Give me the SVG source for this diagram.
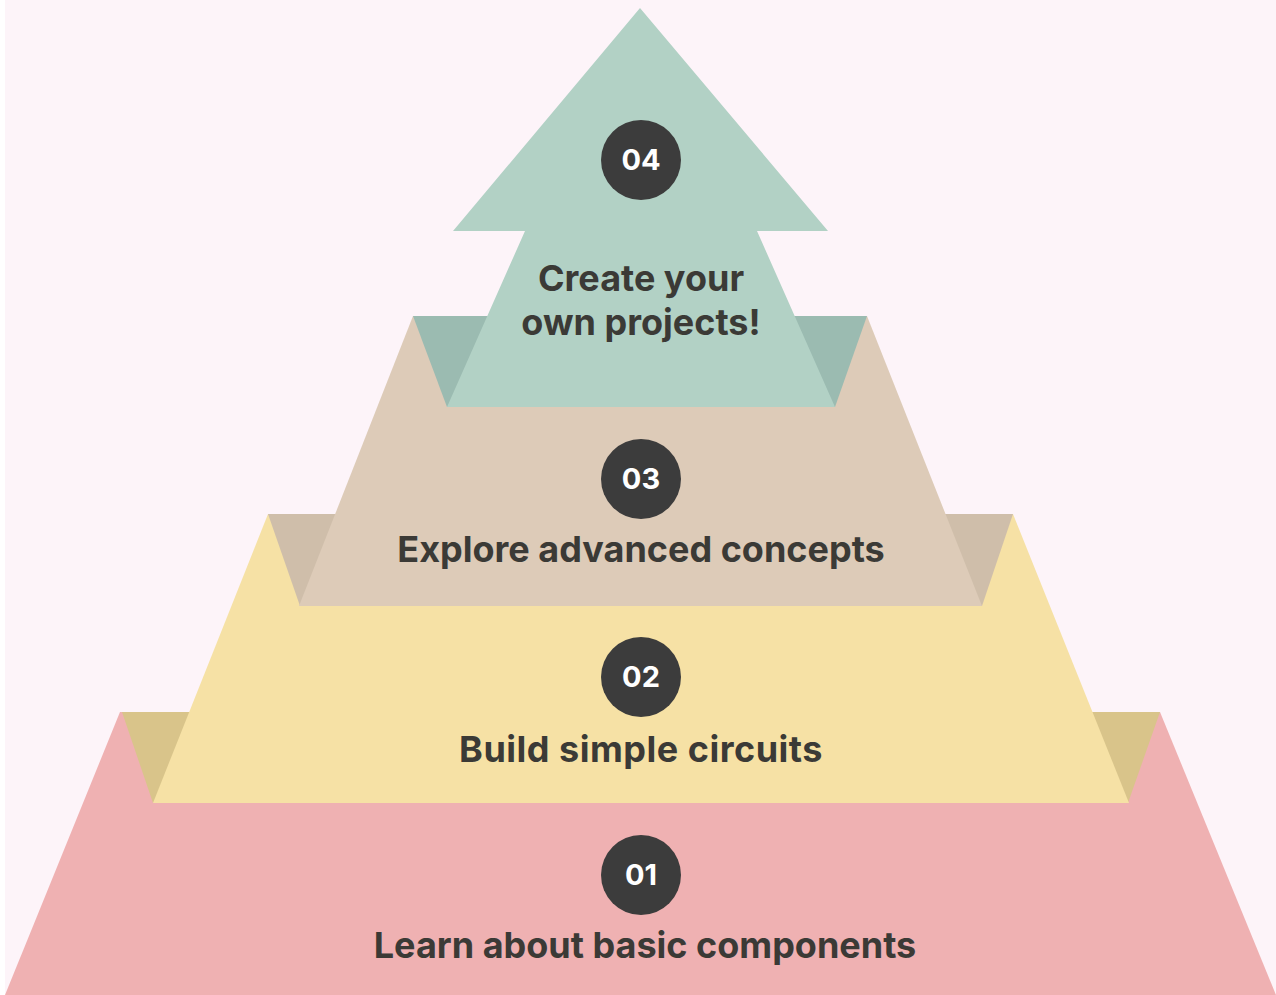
<svg xmlns="http://www.w3.org/2000/svg" width="1276" height="995" viewBox="0 0 1276 995">
  <style>
    .label { font-family: Inter, "Liberation Sans", Arial, sans-serif; font-weight: 700; font-size: 36px; fill: #3b3a36; text-anchor: middle; }
    .num { font-family: Inter, "Liberation Sans", Arial, sans-serif; font-weight: 700; font-size: 29px; fill: #ffffff; text-anchor: middle; }
    .badge { fill: #3c3c3c; }
  </style>
  <rect x="0" y="0" width="1276" height="995" fill="#ffffff"/>
  <rect x="5" y="0" width="1271" height="995" fill="#fdf4f9"/>

  <!-- Tier 1: base -->
  <g id="tier-01">
    <polygon points="120,712 1160,712 1276,995 5,995" fill="#efb1b2"/>
    <circle class="badge" cx="641" cy="875" r="40"/>
    <text class="num" x="641" y="885">01</text>
    <text class="label" x="645" y="958">Learn about basic components</text>
  </g>

  <!-- Tier 2 -->
  <g id="tier-02">
    <polygon points="122,712 1160,712 1128,803 153,803" fill="#d9c48a"/>
    <polygon points="268,514 1013,514 1129,803 153,803" fill="#f6e1a5"/>
    <circle class="badge" cx="641" cy="677" r="40"/>
    <text class="num" x="641" y="687">02</text>
    <text class="label" x="641" y="762" letter-spacing="0.5">Build simple circuits</text>
  </g>

  <!-- Tier 3 -->
  <g id="tier-03">
    <polygon points="268,514 1013,514 982,606 300,606" fill="#cfbeaa"/>
    <polygon points="413,316 867,316 982,606 299,606" fill="#ddcbb8"/>
    <circle class="badge" cx="641" cy="479" r="40"/>
    <text class="num" x="641" y="489">03</text>
    <text class="label" x="641" y="562">Explore advanced concepts</text>
  </g>

  <!-- Tier 4: arrow top -->
  <g id="tier-04">
    <polygon points="413,316 867,316 835,407 447,407" fill="#9bbbb1"/>
    <polygon points="640,8 828,231 757,231 835,407 447,407 525,231 453,231" fill="#b2d1c5"/>
    <circle class="badge" cx="641" cy="160" r="40"/>
    <text class="num" x="641" y="170">04</text>
    <text class="label" x="641" y="291">Create your</text>
    <text class="label" x="641" y="335">own projects!</text>
  </g>

  <g id="connectors"/>
</svg>
